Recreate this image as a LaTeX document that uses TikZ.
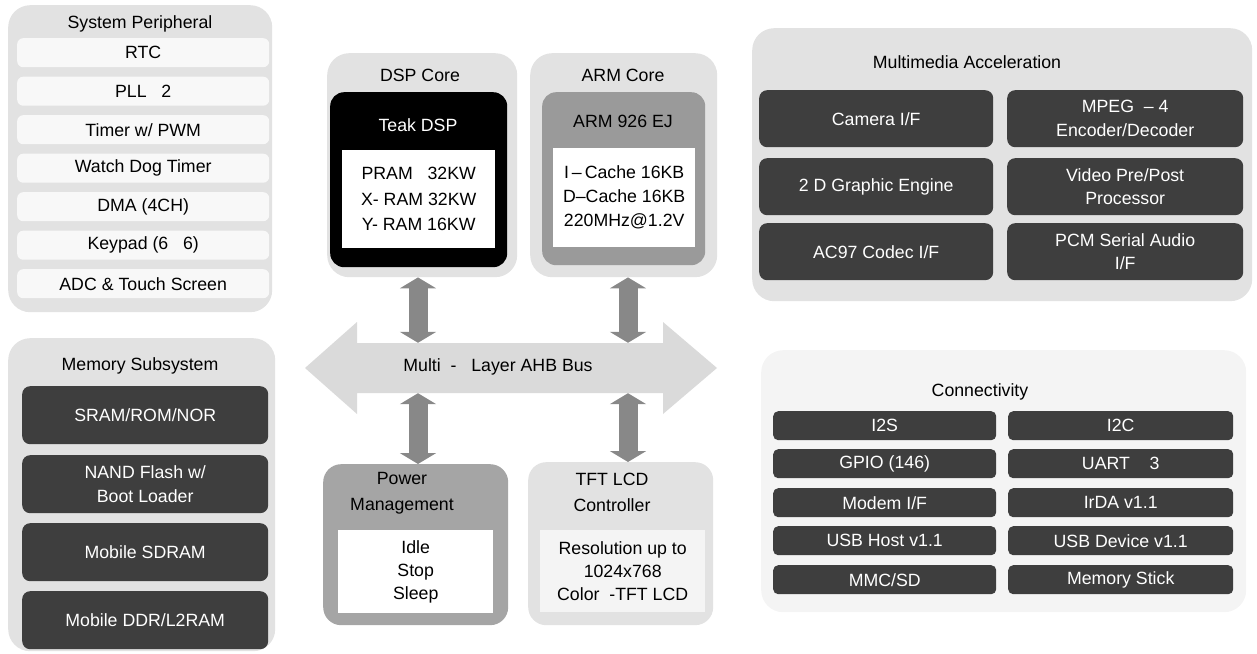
\documentclass[tikz,border=0pt]{standalone}
\usepackage{fontspec}
\setmainfont{Liberation Sans}
\usetikzlibrary{arrows.meta}
\definecolor{contgray}{HTML}{E2E2E2}
\definecolor{rowgray}{HTML}{F8F8F8}
\definecolor{darkgray2}{HTML}{3E3E3E}
\definecolor{armgray}{HTML}{9A9A9A}
\definecolor{pwrgray}{HTML}{A5A5A5}
\definecolor{busgray}{HTML}{DADADA}
\definecolor{arrgray}{HTML}{888888}
\definecolor{faintgray}{HTML}{F4F4F4}
\tikzset{
  cont/.style={fill=contgray, rounded corners=22bp, inner sep=0pt, anchor=north west},
  rowbox/.style={fill=rowgray, rounded corners=6bp, inner sep=0pt, anchor=north west, minimum width=252bp, minimum height=29bp},
  darkbox/.style={fill=darkgray2, rounded corners=8bp, inner sep=0pt, anchor=north west, text=white, align=center},
  whitebox/.style={fill=white, inner sep=0pt, anchor=north west, align=center},
  title/.style={inner sep=0pt, align=center},
  fatarrow/.style={draw=arrgray, line width=19bp, arrows={Triangle[width=36bp,length=11bp]-Triangle[width=36bp,length=11bp]}},
}
\begin{document}
\begin{tikzpicture}[x=1bp,y=-1bp, font=\fontsize{17.8}{24}\selectfont]
\useasboundingbox (0,0) rectangle (1257,654);

% ---------------- System Peripheral
\node[cont, minimum width=264bp, minimum height=307bp] (sys) at (8,5) {};
\node[title] (sysT) at (140,24) {System Peripheral};
\node[rowbox] (rtc) at (17,38) {RTC};
\node[rowbox] (pll) at (17,76.5) {PLL\ \ \ 2};
\node[rowbox] (tmr) at (17,115) {Timer w/ PWM};
\node[rowbox] (wdt) at (17,153.5) {Watch Dog Timer};
\node[rowbox] (dma) at (17,192) {DMA (4CH)};
\node[rowbox] (kpd) at (17,230.5) {Keypad (6\ \ \ 6)};
\node[rowbox] (adc) at (17,269) {ADC \& Touch Screen};

% ---------------- Memory Subsystem
\node[cont, minimum width=267bp, minimum height=313bp] (mem) at (8,338) {};
\node[title] (memT) at (140,366) {Memory Subsystem};
\node[darkbox, minimum width=246bp, minimum height=58bp] (sram) at (22,386) {SRAM/ROM/NOR};
\node[darkbox, minimum width=246bp, minimum height=58bp] (nand) at (22,455) {NAND Flash w/\\Boot Loader};
\node[darkbox, minimum width=246bp, minimum height=58bp] (sdram) at (22,523) {Mobile SDRAM};
\node[darkbox, minimum width=246bp, minimum height=58bp] (ddr) at (22,591) {Mobile DDR/L2RAM};

% ---------------- DSP Core
\node[cont, minimum width=190bp, minimum height=224bp] (dsp) at (327,53) {};
\node[title] (dspT) at (420,75) {DSP Core};
\node[fill=black, rounded corners=14bp, inner sep=0pt, anchor=north west, minimum width=177bp, minimum height=175bp] (teak) at (330,92) {};
\node[title, text=white] (teakT) at (418,125) {Teak DSP};
\node[whitebox, minimum width=153bp, minimum height=98bp, font=\fontsize{17.8}{25.5}\selectfont] (dspmem) at (342,150) {PRAM\ \ \ 32KW\\X- RAM 32KW\\Y- RAM 16KW};

% ---------------- ARM Core
\node[cont, minimum width=187bp, minimum height=224bp] (arm) at (530,53) {};
\node[title] (armT) at (623,75) {ARM Core};
\node[fill=armgray, rounded corners=14bp, inner sep=0pt, anchor=north west, minimum width=163bp, minimum height=173bp] (a926) at (542,92) {};
\node[title] (a926T) at (623,121) {ARM 926 EJ};
\node[whitebox, minimum width=142bp, minimum height=99bp, font=\fontsize{17.8}{24}\selectfont] (armmem) at (553,148) {I\,--\,Cache 16KB\\D--Cache 16KB\\220MHz@1.2V};

% ---------------- Bus
\fill[busgray] (305,368) -- (357,322) -- (357,343) -- (663,343) -- (663,322) -- (717,368) -- (663,414) -- (663,393) -- (357,393) -- (357,414) -- cycle;
\node[inner sep=0pt, minimum width=306bp, minimum height=50bp] (bus) at (510,368) {};
\node[title] (busT) at (498,367) {Multi\ \ -\ \ \ Layer AHB Bus};

% ---------------- Power Management
\node[fill=pwrgray, rounded corners=18bp, inner sep=0pt, anchor=north west, minimum width=185bp, minimum height=161bp] (pwr) at (323,464) {};
\node[title, font=\fontsize{17.8}{26}\selectfont] (pwrT) at (402,493) {Power\\Management};
\node[whitebox, minimum width=155bp, minimum height=83bp, font=\fontsize{17.8}{23}\selectfont] (pwrmodes) at (338,530) {Idle\\Stop\\Sleep};

% ---------------- TFT LCD Controller
\node[cont, rounded corners=18bp, minimum width=185bp, minimum height=163bp] (tft) at (528,462) {};
\node[title, font=\fontsize{17.8}{26}\selectfont] (tftT) at (612,492) {TFT LCD\\Controller};
\node[fill=faintgray, inner sep=0pt, anchor=north west, minimum width=165bp, minimum height=82bp, align=center, font=\fontsize{17.8}{23}\selectfont] (tftres) at (540,530) {Resolution up to\\1024x768\\Color\ \ -TFT LCD};

% ---------------- Arrows
\coordinate (xd) at (418,0);
\coordinate (xa) at (628,0);
\draw[fatarrow] (xd |- dsp.south) -- (xd |- bus.north);
\draw[fatarrow] (xa |- arm.south) -- (xa |- bus.north);
\draw[fatarrow] (xd |- bus.south) -- (xd |- pwr.north);
\draw[fatarrow] (xa |- bus.south) -- (xa |- tft.north);

% ---------------- Multimedia Acceleration
\node[cont, minimum width=500bp, minimum height=273bp] (mm) at (752,28) {};
\node[title] (mmT) at (967,62) {Multimedia Acceleration};
\node[darkbox, minimum width=234bp, minimum height=57bp] (cam) at (759,90) {Camera I/F};
\node[darkbox, minimum width=236bp, minimum height=57bp] (mpeg) at (1007,90) {MPEG\ \ -- 4\\Encoder/Decoder};
\node[darkbox, minimum width=234bp, minimum height=57bp] (gfx) at (759,158) {2 D Graphic Engine};
\node[darkbox, minimum width=236bp, minimum height=57bp] (vpp) at (1007,158) {Video Pre/Post\\Processor};
\node[darkbox, minimum width=234bp, minimum height=57bp] (ac97) at (759,223) {AC97 Codec I/F};
\node[darkbox, minimum width=236bp, minimum height=57bp] (pcm) at (1007,223) {PCM Serial Audio\\I/F};

% ---------------- Connectivity
\node[fill=faintgray, rounded corners=22bp, inner sep=0pt, anchor=north west, minimum width=485bp, minimum height=262bp] (con) at (761,350) {};
\node[title] (conT) at (980,392) {Connectivity};
\node[darkbox, rounded corners=5bp, minimum width=223bp, minimum height=29bp] (i2s) at (773,411) {I2S};
\node[darkbox, rounded corners=5bp, minimum width=225bp, minimum height=29bp] (i2c) at (1008,411) {I2C};
\node[darkbox, rounded corners=5bp, minimum width=223bp, minimum height=29bp] (gpio) at (773,449) {GPIO (146)};
\node[darkbox, rounded corners=5bp, minimum width=225bp, minimum height=29bp] (uart) at (1008,449) {UART\ \ \ \ 3};
\node[darkbox, rounded corners=5bp, minimum width=223bp, minimum height=29bp] (modem) at (773,488) {Modem I/F};
\node[darkbox, rounded corners=5bp, minimum width=225bp, minimum height=29bp] (irda) at (1008,488) {IrDA v1.1};
\node[darkbox, rounded corners=5bp, minimum width=223bp, minimum height=29bp] (usbh) at (773,526) {USB Host v1.1};
\node[darkbox, rounded corners=5bp, minimum width=225bp, minimum height=29bp] (usbd) at (1008,526) {USB Device v1.1};
\node[darkbox, rounded corners=5bp, minimum width=223bp, minimum height=29bp] (mmc) at (773,565) {MMC/SD};
\node[darkbox, rounded corners=5bp, minimum width=225bp, minimum height=29bp] (ms) at (1008,565) {Memory Stick};
\end{tikzpicture}
\end{document}
